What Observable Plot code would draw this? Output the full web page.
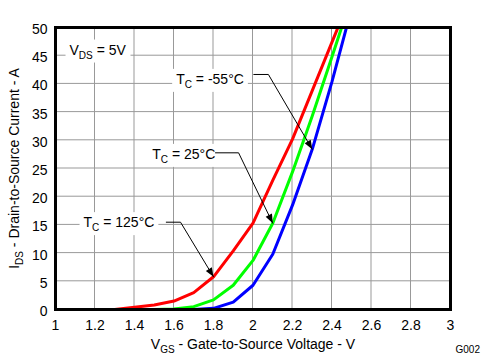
<!DOCTYPE html>
<html>
<head>
<meta charset="utf-8">
<script src="https://cdn.jsdelivr.net/npm/d3@7"></script>
<script src="https://cdn.jsdelivr.net/npm/@observablehq/plot@0.6"></script>
<style>
  html, body { margin: 0; padding: 0; background: #fff; overflow: hidden; }
  svg { display: block; }
</style>
</head>
<body>
<div id="chart"></div>
<script>
// ---- data ----
const vgs = [1.3, 1.4, 1.5, 1.6, 1.7, 1.8, 1.9, 2.0, 2.1, 2.2, 2.3, 2.4, 2.5];
const ids125 = [0, 0.4, 0.8, 1.5, 3.0, 5.8, 10.4, 15.3, 22.9, 30.2, 38.8, 47.4, 56];
const ids25  = [null, null, 0, 0.1, 0.5, 1.7, 4.3, 8.7, 15.3, 24.4, 34.3, 44.8, 55.5];
const idsM55 = [null, null, null, null, 0, 0.2, 1.3, 4.3, 9.8, 18.5, 28.4, 40.4, 53.5];
const seriesNames = ["125°C", "25°C", "-55°C"];
const seriesValues = [ids125, ids25, idsM55];
const seriesColors = ["#ff0000", "#00ff00", "#0000ff"];

const xTicks = [1, 1.2, 1.4, 1.6, 1.8, 2, 2.2, 2.4, 2.6, 2.8, 3];
const yTicks = [0, 5, 10, 15, 20, 25, 30, 35, 40, 45, 50];
const xLabel = "V_{GS} - Gate-to-Source Voltage - V";
const yLabel = "I_{DS} - Drain-to-Source Current - A";
const figId = "G002";

// annotations (text anchor in data units)
const annLabels = ["V_{DS} = 5V", "T_{C} = -55°C", "T_{C} = 25°C", "T_{C} = 125°C"];
const annX = [1.071, 1.611, 1.490, 1.142];
const annY = [46.0, 40.8, 27.5, 15.4];
// leader lines: start, elbow, then tip on a series data point
const leadStartX = [2.004, 1.810, 1.561];
const leadElbowX = [2.078, 1.927, 1.633];
const leadY = [41.67, 27.78, 15.48];
const leadTipV = [2.3, 2.1, 1.8];
const leadSeries = [2, 1, 0];

// ---- build tables ----
const rows = [];
seriesValues.forEach((vals, k) => {
  vals.forEach((v, i) => { if (v != null) rows.push({v: vgs[i], id: v, s: k}); });
});
const leaderPts = [];
leadStartX.forEach((sx, i) => {
  const k = leadSeries[i];
  const tipIdx = vgs.findIndex(v => Math.abs(v - leadTipV[i]) < 1e-9);
  leaderPts.push({x: sx, y: leadY[i], k: i});
  leaderPts.push({x: leadElbowX[i], y: leadY[i], k: i});
  leaderPts.push({x: vgs[tipIdx], y: seriesValues[k][tipIdx], k: i});
});
const annIdx = annLabels.map((_, i) => i);
const xDom = [xTicks[0], xTicks[xTicks.length - 1]];
const yDom = [yTicks[0], yTicks[yTicks.length - 1]];

const font = "'Liberation Sans', Arial, Helvetica, sans-serif";
const gridColor = "#999999";

const plot = Plot.plot({
  width: 499,
  height: 360,
  marginLeft: 55,
  marginTop: 27,
  marginRight: 49,
  marginBottom: 51,
  style: {fontFamily: font, fontSize: "14px"},
  x: {domain: xDom},
  y: {domain: yDom},
  marks: [
    // grid drawn as 1px filled rectangles
    Plot.rect(xTicks, {x1: d => d, x2: d => d, y1: yDom[0], y2: yDom[1],
      fill: gridColor, insetLeft: -0.5, insetRight: -0.5, className: "gx"}),
    Plot.rect(yTicks, {y1: d => d, y2: d => d, x1: xDom[0], x2: xDom[1],
      fill: gridColor, insetTop: -0.5, insetBottom: -0.5, className: "gy"}),
    ...seriesNames.map((name, k) => Plot.line(rows.filter(r => r.s === k), {
      x: "v", y: "id", stroke: seriesColors[k], strokeWidth: 3, clip: true
    })),
    Plot.text(annIdx, {
      x: i => annX[i], y: i => annY[i], text: i => annLabels[i],
      textAnchor: "start", lineAnchor: "middle", fontSize: 14, fill: "#000",
      className: "annot"
    }),
    Plot.line(leaderPts, {x: "x", y: "y", z: "k", stroke: "#000", strokeWidth: 1,
      className: "leader"}),
    Plot.axisX({ticks: xTicks, tickSize: 0, tickPadding: 11, fontSize: 14,
      tickFormat: d => String(d), label: null}),
    Plot.axisY({ticks: yTicks, tickSize: 0, tickPadding: 8, fontSize: 14, dy: 2,
      tickFormat: d => String(d), label: null}),
    Plot.text([xLabel], {frameAnchor: "bottom", dy: 39, text: d => d,
      textAnchor: "middle", lineAnchor: "bottom", fontSize: 14}),
    Plot.text([yLabel], {frameAnchor: "left", dx: -41, rotate: -90, text: d => d,
      textAnchor: "middle", lineAnchor: "middle", fontSize: 14}),
    Plot.text([figId], {frameAnchor: "bottom-right", dx: 5, dy: 43, text: d => d,
      textAnchor: "start", lineAnchor: "bottom", fontSize: 10}),
    Plot.frame({stroke: "#000", strokeWidth: 3})
  ]
});

document.getElementById("chart").appendChild(plot);

// ---- subscripts ----
const NS = "http://www.w3.org/2000/svg";
plot.querySelectorAll("text").forEach(t => {
  if (t.children.length) return;
  const s = t.textContent;
  if (!s.includes("_{")) return;
  t.textContent = "";
  let shifted = false;
  const add = (str, sub) => {
    if (!str) return;
    const ts = document.createElementNS(NS, "tspan");
    ts.textContent = str;
    if (sub) { ts.setAttribute("font-size", "10"); ts.setAttribute("dy", "4"); }
    else if (shifted) ts.setAttribute("dy", "-4");
    shifted = sub;
    t.appendChild(ts);
  };
  const re = /_\{([^}]*)\}/g;
  let last = 0, m;
  while ((m = re.exec(s))) {
    add(s.slice(last, m.index), false);
    add(m[1], true);
    last = re.lastIndex;
  }
  add(s.slice(last), false);
});

// ---- white boxes behind annotation labels ----
plot.querySelectorAll('g.annot text').forEach(t => {
  const b = t.getBBox();
  const r = document.createElementNS(NS, "rect");
  r.setAttribute("x", b.x - 4);
  r.setAttribute("y", b.y - 2);
  r.setAttribute("width", b.width + 8);
  r.setAttribute("height", b.height + 4);
  r.setAttribute("fill", "#fff");
  r.setAttribute("stroke", "none");
  if (t.getAttribute("transform")) r.setAttribute("transform", t.getAttribute("transform"));
  t.parentNode.insertBefore(r, t);
});

// ---- filled arrowheads on leaders ----
const defs = document.createElementNS(NS, "defs");
const marker = document.createElementNS(NS, "marker");
marker.setAttribute("id", "ahead");
marker.setAttribute("viewBox", "-10 -5 11 10");
marker.setAttribute("refX", "0");
marker.setAttribute("refY", "0");
marker.setAttribute("markerWidth", "11");
marker.setAttribute("markerHeight", "10");
marker.setAttribute("markerUnits", "userSpaceOnUse");
marker.setAttribute("orient", "auto");
const mp = document.createElementNS(NS, "path");
mp.setAttribute("d", "M-9,-3.5L0,0L-9,3.5Z");
mp.setAttribute("fill", "#000");
mp.setAttribute("stroke", "none");
marker.appendChild(mp);
defs.appendChild(marker);
plot.appendChild(defs);
plot.querySelectorAll('g.leader path').forEach(p => p.setAttribute("marker-end", "url(#ahead)"));
</script>
</body>
</html>
